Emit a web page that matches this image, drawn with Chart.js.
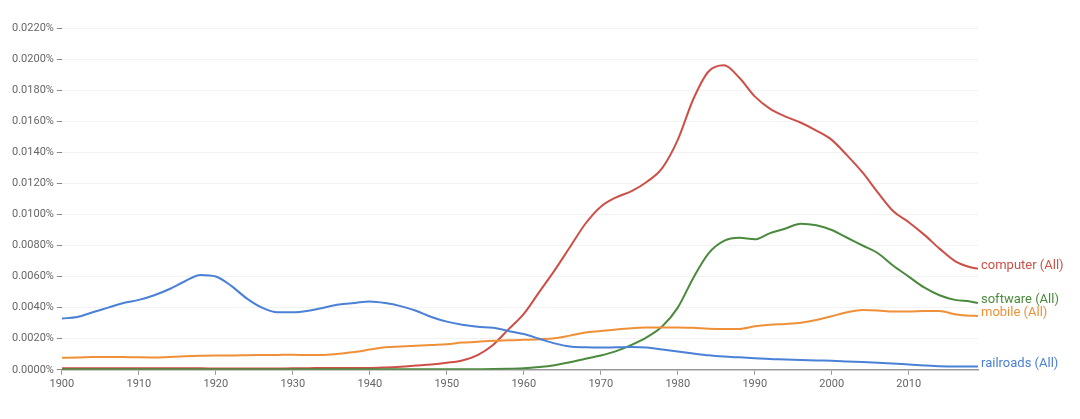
<!DOCTYPE html>
<html lang="en">
<head>
  <meta charset="UTF-8" />
  <title>Ngram: railroads, mobile, software, computer</title>
  <script src="https://cdn.jsdelivr.net/npm/chart.js"></script>
  <style>
    html, body { margin: 0; padding: 0; background: #fff; }
    #wrap { width: 1080px; height: 419px; }
  </style>
</head>
<body>
  <div id="wrap"><canvas id="ngram" width="1080" height="419"></canvas></div>

  <script>
    // years sampled every 2 years, plus the last one
    const years = [1900,1902,1904,1906,1908,1910,1912,1914,1916,1918,
                   1920,1922,1924,1926,1928,1930,1932,1934,1936,1938,
                   1940,1942,1944,1946,1948,1950,1952,1954,1956,1958,
                   1960,1962,1964,1966,1968,1970,1972,1974,1976,1978,
                   1980,1982,1984,1986,1988,1990,1992,1994,1996,1998,
                   2000,2002,2004,2006,2008,2010,2012,2014,2016,2018,2019];

    // frequency in percent
    const railroads = [0.0033,0.0034,0.0037,0.0040,0.0043,0.0045,0.0048,0.0052,0.0057,0.0061,
                       0.0060,0.0054,0.0046,0.0040,0.0037,0.0037,0.0038,0.0040,0.0042,0.0043,
                       0.0044,0.0043,0.0041,0.0038,0.0034,0.0031,0.0029,0.00277,0.0027,0.0025,
                       0.0023,0.0020,0.0017,0.0015,0.00145,0.00143,0.00145,0.00147,0.00143,0.0013,
                       0.00118,0.00105,0.00093,0.00085,0.0008,0.00075,0.0007,0.00067,0.00063,0.0006,
                       0.00058,0.00054,0.0005,0.00046,0.00041,0.00034,0.00028,0.00023,0.00021,0.00021,0.00021];

    const mobile = [0.00077,0.00079,0.00082,0.00083,0.00082,0.0008,0.00079,0.00083,0.00087,0.0009,
                    0.00092,0.00092,0.00094,0.00095,0.00096,0.00097,0.00095,0.00096,0.00103,0.00115,
                    0.0013,0.00145,0.0015,0.00155,0.0016,0.00165,0.00175,0.0018,0.00187,0.0019,
                    0.00193,0.00197,0.00203,0.0022,0.0024,0.0025,0.0026,0.00268,0.00272,0.00273,
                    0.00273,0.0027,0.00265,0.00263,0.00263,0.0028,0.0029,0.00295,0.00303,0.0032,
                    0.00345,0.0037,0.00385,0.00382,0.00375,0.00375,0.00378,0.00378,0.00358,0.00348,0.00347];

    const software = [0.00003,0.00003,0.00003,0.00003,0.00003,0.00003,0.00003,0.00003,0.00003,0.00003,
                      0.00003,0.00003,0.00003,0.00003,0.00003,0.00003,0.00003,0.00003,0.00003,0.00003,
                      0.00003,0.00003,0.00003,0.00003,0.00003,0.00003,0.00003,0.00004,0.00005,0.00007,
                      0.0001,0.00018,0.0003,0.00048,0.00071,0.00092,0.0012,0.0016,0.0021,0.0028,
                      0.0040,0.0059,0.0075,0.0083,0.0085,0.0084,0.0088,0.0091,0.0094,0.0093,
                      0.0090,0.0085,0.0080,0.0075,0.0067,0.0060,0.0053,0.0048,0.0045,0.0044,0.0043];

    const computer = [0.0001,0.0001,0.0001,0.0001,0.0001,0.0001,0.0001,0.0001,0.0001,0.0001,
                      0.00008,0.00008,0.00008,0.00008,0.00008,0.0001,0.0001,0.00012,0.00012,0.00012,
                      0.00012,0.00015,0.0002,0.00027,0.00034,0.00045,0.0006,0.00095,0.0016,0.0026,
                      0.0036,0.0050,0.0064,0.0079,0.0094,0.0105,0.0111,0.0115,0.0121,0.0130,
                      0.0148,0.0174,0.0192,0.0196,0.0188,0.0176,0.0168,0.0163,0.0159,0.0154,
                      0.0148,0.0138,0.0127,0.0114,0.0102,0.0095,0.0087,0.0078,0.0070,0.0066,0.0065];

    const seriesNames = ["railroads (All)", "mobile (All)", "software (All)", "computer (All)"];
    const seriesColors = ["#4a80d6", "#ef9038", "#4b8a3c", "#cd4f47"];

    const xTicks = [1900,1910,1920,1930,1940,1950,1960,1970,1980,1990,2000,2010];
    const yTicks = [0,0.002,0.004,0.006,0.008,0.010,0.012,0.014,0.016,0.018,0.020,0.022];

    function points(vals) {
      return years.map((yr, i) => ({ x: yr, y: vals[i] }));
    }

    // series name drawn at the right end of every line
    const endLabels = {
      id: "endLabels",
      afterDatasetsDraw(chart) {
        const ctx = chart.ctx;
        ctx.save();
        ctx.font = "13px Roboto";
        ctx.textBaseline = "middle";
        ctx.textAlign = "left";
        chart.data.datasets.forEach((ds, i) => {
          const meta = chart.getDatasetMeta(i);
          const last = meta.data[meta.data.length - 1];
          ctx.fillStyle = ds.borderColor;
          ctx.fillText(ds.label, chart.chartArea.right + 3, last.y - 3);
        });
        ctx.restore();
      }
    };

    const allSeries = [railroads, mobile, software, computer];

    new Chart(document.getElementById("ngram"), {
      type: "line",
      data: {
        datasets: allSeries.map((vals, i) => ({
          label: seriesNames[i],
          data: points(vals),
          borderColor: seriesColors[i],
          borderWidth: 2,
          pointRadius: 0,
          fill: false,
          cubicInterpolationMode: "monotone"
        }))
      },
      options: {
        responsive: false,
        animation: false,
        layout: { padding: { left: 9, right: 102, top: 28, bottom: 25 } },
        plugins: {
          legend: { display: false },
          tooltip: { enabled: false }
        },
        scales: {
          x: {
            type: "linear",
            min: 1900,
            max: 2019,
            afterBuildTicks: s => { s.ticks = xTicks.map(v => ({ value: v })); },
            ticks: {
              color: "#666",
              font: { family: "Roboto", size: 11 },
              padding: 3,
              maxRotation: 0,
              callback: v => String(v)
            },
            grid: { drawOnChartArea: false, tickLength: 5, tickColor: "#999" },
            border: { color: "#999", width: 1.5 }
          },
          y: {
            min: 0,
            max: 0.022,
            afterBuildTicks: s => { s.ticks = yTicks.map(v => ({ value: v })); },
            ticks: {
              color: "#666",
              font: { family: "Roboto", size: 11 },
              padding: 3,
              callback: v => v.toFixed(4) + "%"
            },
            grid: { color: "#f2f2f2", tickLength: 5, tickColor: "#888" },
            border: { display: false }
          }
        }
      },
      plugins: [endLabels]
    });
  </script>
</body>
</html>
